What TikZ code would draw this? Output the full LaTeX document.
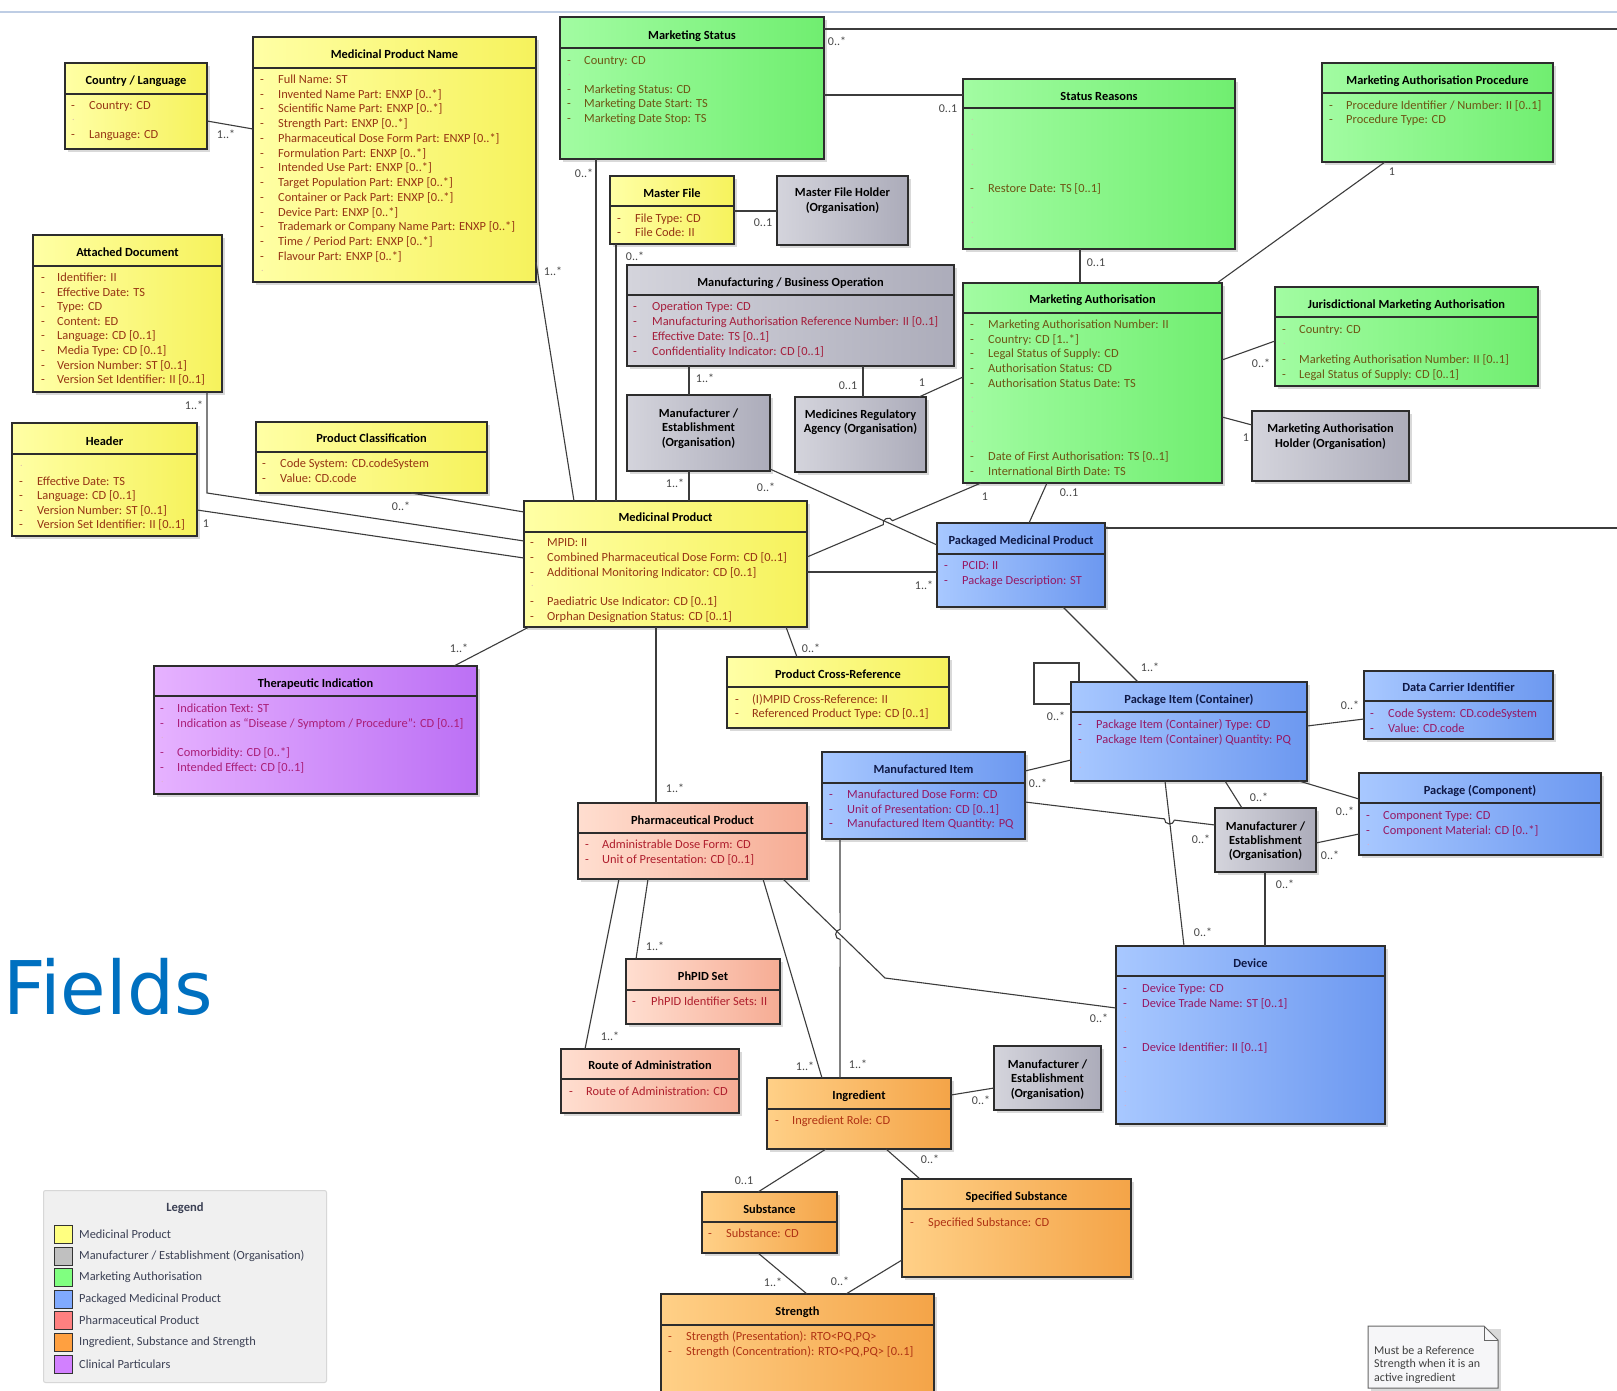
\documentclass[tikz,border=0pt]{standalone}
\usepackage{fontspec}
\setmainfont{Carlito}
\newfontfamily\dejavu{DejaVu Sans}
\usetikzlibrary{calc}

\definecolor{yL}{RGB}{255,255,165}\definecolor{yR}{RGB}{246,242,92}
\definecolor{gL}{RGB}{162,252,162}\definecolor{gR}{RGB}{112,238,112}
\definecolor{kL}{RGB}{212,212,220}\definecolor{kR}{RGB}{172,172,186}
\definecolor{bL}{RGB}{168,200,255}\definecolor{bR}{RGB}{108,152,240}
\definecolor{pL}{RGB}{255,222,208}\definecolor{pR}{RGB}{246,172,148}
\definecolor{oL}{RGB}{255,208,135}\definecolor{oR}{RGB}{244,164,72}
\definecolor{vL}{RGB}{230,178,255}\definecolor{vR}{RGB}{188,112,245}
\definecolor{tY}{RGB}{150,52,20}
\definecolor{tG}{RGB}{110,85,20}
\definecolor{tK}{RGB}{165,30,60}
\definecolor{tB}{RGB}{150,25,100}
\definecolor{tP}{RGB}{175,30,45}
\definecolor{tO}{RGB}{175,50,20}
\definecolor{tV}{RGB}{170,30,120}
\definecolor{navy}{RGB}{15,25,70}
\definecolor{lineC}{RGB}{60,60,60}
\definecolor{boxC}{RGB}{45,45,45}
\definecolor{multC}{RGB}{70,70,70}
\definecolor{fieldsC}{RGB}{0,112,192}
\definecolor{legBg}{RGB}{240,240,240}
\definecolor{legBd}{RGB}{215,215,215}
\definecolor{legT}{RGB}{60,65,85}
\definecolor{noteBg}{RGB}{246,246,248}
\definecolor{topC}{RGB}{190,205,228}
\definecolor{sY}{RGB}{255,255,128}\definecolor{sK}{RGB}{192,192,192}
\definecolor{sG}{RGB}{128,255,128}\definecolor{sB}{RGB}{128,170,255}
\definecolor{sP}{RGB}{255,128,128}\definecolor{sO}{RGB}{255,160,64}
\definecolor{sV}{RGB}{210,128,255}
\colorlet{ac}{black}
\colorlet{tc}{black}

\tikzset{
  shadowc/.style={fill=black, opacity=0.15},
  box/.style={rectangle, draw=boxC, line width=1.2pt, inner sep=0pt, outer sep=0pt},
  sepline/.style={draw=boxC, line width=1.3pt},
  ttl/.style={font=\fontsize{12.4}{14}\selectfont\bfseries, text=tc, inner sep=0pt, text height=11.5pt, text depth=2.5pt},
  attr/.style={font=\fontsize{12.4}{14}\selectfont, text=ac, inner sep=0pt, anchor=west, text height=11.5pt, text depth=2.5pt},
  dotm/.style={font=\fontsize{10}{12}\selectfont, text=ac!35, inner sep=0pt, anchor=west},
  conn/.style={draw=lineC, line width=1.1pt},
  mult/.style={font=\fontsize{12}{14}\selectfont, text=multC, inner sep=0pt},
  legtxt/.style={font=\fontsize{12.4}{14}\selectfont, text=legT, inner sep=0pt},
  notetxt/.style={font=\fontsize{12}{14}\selectfont, text=black!75, inner sep=0pt, anchor=west},
  fY/.style={left color=yL, right color=yR},
  fG/.style={left color=gL, right color=gR},
  fK/.style={left color=kL, right color=kR},
  fB/.style={left color=bL, right color=bR},
  fP/.style={left color=pL, right color=pR},
  fO/.style={left color=oL, right color=oR},
  fV/.style={left color=vL, right color=vR},
}

\newcount\nn
\newcommand\nid{\global\advance\nn by 1\relax}

% name x1 y1 x2 y2 sepY titleY fill title
\newcommand\umlbox[9]{%
  \expandafter\xdef\csname bx@#1\endcsname{#2}%
  \expandafter\xdef\csname by@#1\endcsname{#3}%
  \fill[shadowc] (#2+3,#3+3) rectangle (#4+3,#5+3);
  \node[box,#8,minimum width={(#4)-(#2)},minimum height={(#5)-(#3)},anchor=north west] (#1) at (#2,#3) {};
  \draw[sepline] (#2,#6) -- (#4,#6);
  \node[ttl] (#1t) at ({(#2+#4)/2},#7) {#9};
}
\newcommand\orgbox[5]{%
  \expandafter\xdef\csname bx@#1\endcsname{#2}%
  \expandafter\xdef\csname by@#1\endcsname{#3}%
  \fill[shadowc] (#2+3,#3+3) rectangle (#4+3,#5+3);
  \node[box,fK,minimum width={(#4)-(#2)},minimum height={(#5)-(#3)},anchor=north west] (#1) at (#2,#3) {};
}
\newcommand\ot[3]{\nid\node[ttl] (o\the\nn) at (#1,#2) {#3};}
\newcommand\attrlist[5]{%
  \foreach \t [count=\i from 0] in {#5}{%
    \nid
    \edef\tmpT{\detokenize\expandafter{\t}}%
    \ifx\tmpT\empty
      \node[dotm] (a\the\nn) at (#1+1,{#3+\i*#4}) {.};%
    \else
      \node[attr] (a\the\nn) at (#1,{#3+\i*#4}) {-};%
      \node[attr] (b\the\nn) at (#2,{#3+\i*#4}) {\t};%
    \fi}}
\newcommand\cp[4]{\coordinate (#1) at ($(#2.north west)+({#3-\csname bx@#2\endcsname},{#4-\csname by@#2\endcsname})$);}
\newcommand\ml[3]{\nid\node[mult] (m\the\nn) at (#1,#2) {#3};}
\newcommand\legitem[3]{\nid\node[draw=black!80, line width=1pt, fill=#2, minimum width=18, minimum height=18, inner sep=0pt, anchor=west] (s\the\nn) at (54,#1) {};
  \node[legtxt, anchor=west] (l\the\nn) at (79,#1) {#3};}

\begin{document}
\begin{tikzpicture}[x=1pt,y=-1pt]
\useasboundingbox (0,0) rectangle (1617,1391);
\fill[white] (0,0) rectangle (1617,1391);
\draw[topC, line width=2.5pt] (0,12) -- (1617,12);

% ---------- yellow ----------
\colorlet{ac}{tY}\colorlet{tc}{black}
\umlbox{cl}{65}{63}{207}{149}{94}{80}{fY}{Country / Language}
\attrlist{71}{89}{105}{14.5}{{Country: CD},{},{Language: CD}}
\umlbox{mpn}{253}{37}{536}{282}{68}{54}{fY}{Medicinal Product Name}
\attrlist{260}{278}{79}{14.75}{{Full Name: ST},{Invented Name Part: ENXP [0..*]},{Scientific Name Part: ENXP [0..*]},{Strength Part: ENXP [0..*]},{Pharmaceutical Dose Form Part: ENXP [0..*]},{Formulation Part: ENXP [0..*]},{Intended Use Part: ENXP [0..*]},{Target Population Part: ENXP [0..*]},{Container or Pack Part: ENXP [0..*]},{Device Part: ENXP [0..*]},{Trademark or Company Name Part: ENXP [0..*]},{Time / Period Part: ENXP [0..*]},{Flavour Part: ENXP [0..*]},{}}
\umlbox{ad}{33}{235}{222}{392}{266}{252}{fY}{Attached Document}
\attrlist{41}{57}{277}{14.6}{{Identifier: II},{Effective Date: TS},{Type: CD},{Content: ED},{Language: CD [0..1]},{Media Type: CD [0..1]},{Version Number: ST [0..1]},{Version Set Identifier: II [0..1]}}
\umlbox{hd}{12}{423}{197}{536}{454}{441}{fY}{Header}
\attrlist{19}{37}{466}{14.5}{{},{Effective Date: TS},{Language: CD [0..1]},{Version Number: ST [0..1]},{Version Set Identifier: II [0..1]}}
\umlbox{pc}{256}{422}{487}{493}{452}{438}{fY}{Product Classification}
\attrlist{262}{280}{463}{15}{{Code System: CD.codeSystem},{Value: CD.code}}
\umlbox{mf}{610}{176}{734}{244}{206}{193}{fY}{Master File}
\attrlist{617}{635}{218}{14}{{File Type: CD},{File Code: II}}
\umlbox{mp}{524}{501}{807}{627}{532}{517}{fY}{Medicinal Product}
\attrlist{530}{547}{542}{14.8}{{MPID: II},{Combined Pharmaceutical Dose Form: CD [0..1]},{Additional Monitoring Indicator: CD [0..1]},{},{Paediatric Use Indicator: CD [0..1]},{Orphan Designation Status: CD [0..1]}}
\umlbox{pcr}{727}{657}{949}{728}{687}{674}{fY}{Product Cross-Reference}
\attrlist{735}{752}{699}{14}{{(I)MPID Cross-Reference: II},{Referenced Product Type: CD [0..1]}}

% ---------- green ----------
\colorlet{ac}{tG}
\umlbox{ms}{560}{17}{824}{159}{48}{35}{fG}{Marketing Status}
\attrlist{567}{584}{60}{14.5}{{Country: CD},{},{Marketing Status: CD},{Marketing Date Start: TS},{Marketing Date Stop: TS}}
\umlbox{sr}{963}{79}{1235}{249}{108}{96}{fG}{Status Reasons}
\attrlist{970}{988}{120}{15}{{},{},{},{}}
\attrlist{970}{988}{188}{15}{{Restore Date: TS [0..1]}}
\attrlist{970}{988}{208}{15}{{},{},{}}
\umlbox{map}{1322}{63}{1553}{162}{93}{80}{fG}{Marketing Authorisation Procedure}
\attrlist{1329}{1346}{105}{14.5}{{Procedure Identifier / Number: II [0..1]},{Procedure Type: CD}}
\umlbox{ma}{963}{283}{1222}{483}{313}{299}{fG}{Marketing Authorisation}
\attrlist{970}{988}{324}{14.7}{{Marketing Authorisation Number: II},{Country: CD [1..*]},{Legal Status of Supply: CD},{Authorisation Status: CD},{Authorisation Status Date: TS},{},{},{},{},{Date of First Authorisation: TS [0..1]},{International Birth Date: TS}}
\umlbox{jma}{1275}{287}{1538}{386}{317}{304}{fG}{Jurisdictional Marketing Authorisation}
\attrlist{1282}{1299}{329}{15}{{Country: CD},{},{Marketing Authorisation Number: II [0..1]},{Legal Status of Supply: CD [0..1]}}

% ---------- grey ----------
\colorlet{ac}{tK}
\umlbox{mbo}{627}{265}{954}{366}{295}{282}{fK}{Manufacturing / Business Operation}
\attrlist{633}{652}{306}{15}{{Operation Type: CD},{Manufacturing Authorisation Reference Number: II [0..1]},{Effective Date: TS [0..1]},{Confidentiality Indicator: CD [0..1]}}
\orgbox{mfh}{777}{176}{908}{245}
\ot{842.5}{192}{Master File Holder}\ot{842.5}{207}{(Organisation)}
\orgbox{mah}{1252}{411}{1409}{481}
\ot{1330.5}{428}{Marketing Authorisation}\ot{1330.5}{443}{Holder (Organisation)}
\orgbox{mfrA}{627}{395}{770}{471}
\ot{698.5}{413}{Manufacturer /}\ot{698.5}{427}{Establishment}\ot{698.5}{442}{(Organisation)}
\orgbox{mra}{795}{397}{926}{472}
\ot{860.5}{414}{Medicines Regulatory}\ot{860.5}{428}{Agency (Organisation)}
\orgbox{mfrB}{1215}{808}{1316}{872}
\ot{1265.5}{826}{Manufacturer /}\ot{1265.5}{840}{Establishment}\ot{1265.5}{854}{(Organisation)}
\orgbox{mfrC}{994}{1046}{1101}{1110}
\ot{1047.5}{1064}{Manufacturer /}\ot{1047.5}{1078}{Establishment}\ot{1047.5}{1093}{(Organisation)}

% ---------- blue ----------
\colorlet{ac}{tB}\colorlet{tc}{navy}
\umlbox{pmp}{937}{523}{1105}{607}{554}{540}{fB}{Packaged Medicinal Product}
\attrlist{944}{962}{565}{14.5}{{PCID: II},{Package Description: ST}}
\umlbox{pi}{1071}{682}{1307}{781}{712}{699}{fB}{Package Item (Container)}
\attrlist{1078}{1096}{724}{14.7}{{Package Item (Container) Type: CD},{Package Item (Container) Quantity: PQ},{},{}}
\umlbox{mi}{822}{752}{1025}{839}{783}{769}{fB}{Manufactured Item}
\attrlist{829}{847}{794}{14.5}{{Manufactured Dose Form: CD},{Unit of Presentation: CD [0..1]},{Manufactured Item Quantity: PQ}}
\umlbox{dci}{1364}{671}{1553}{739}{701}{687}{fB}{Data Carrier Identifier}
\attrlist{1370}{1388}{713}{15}{{Code System: CD.codeSystem},{Value: CD.code}}
\umlbox{pkc}{1359}{773}{1601}{855}{803}{790}{fB}{Package (Component)}
\attrlist{1366}{1383}{815}{15}{{Component Type: CD},{Component Material: CD [0..*]},{}}
\umlbox{dev}{1116}{946}{1385}{1124}{976}{963}{fB}{Device}
\attrlist{1123}{1142}{988}{14.8}{{Device Type: CD},{Device Trade Name: ST [0..1]},{},{},{Device Identifier: II [0..1]},{},{},{},{}}

% ---------- pink ----------
\colorlet{ac}{tP}\colorlet{tc}{black}
\umlbox{php}{578}{803}{807}{879}{833}{820}{fP}{Pharmaceutical Product}
\attrlist{585}{602}{844}{15}{{Administrable Dose Form: CD},{Unit of Presentation: CD [0..1]}}
\umlbox{phs}{626}{959}{780}{1024}{990}{976}{fP}{PhPID Set}
\attrlist{632}{651}{1001}{15}{{PhPID Identifier Sets: II}}
\umlbox{roa}{561}{1049}{739}{1113}{1079}{1065}{fP}{Route of Administration}
\attrlist{569}{586}{1091}{15}{{Route of Administration: CD}}

% ---------- orange ----------
\colorlet{ac}{tO}
\umlbox{ing}{767}{1078}{951}{1149}{1109}{1095}{fO}{Ingredient}
\attrlist{775}{792}{1120}{15}{{Ingredient Role: CD}}
\umlbox{sub}{702}{1192}{837}{1253}{1222}{1209}{fO}{Substance}
\attrlist{708}{726}{1233}{15}{{Substance: CD}}
\umlbox{ss}{902}{1179}{1131}{1277}{1209}{1196}{fO}{Specified Substance}
\attrlist{910}{928}{1222}{15}{{Specified Substance: CD}}
\umlbox{str}{661}{1294}{934}{1402}{1325}{1311}{fO}{Strength}
\attrlist{668}{686}{1336}{15}{{Strength (Presentation): RTO<PQ,PQ>},{Strength (Concentration): RTO<PQ,PQ> [0..1]}}

% ---------- purple ----------
\colorlet{ac}{tV}
\umlbox{ti}{154}{666}{477}{794}{696}{683}{fV}{Therapeutic Indication}
\attrlist{160}{177}{708}{14.75}{{Indication Text: ST},{Indication as ``Disease / Symptom / Procedure'': CD [0..1]},{},{Comorbidity: CD [0..*]},{Intended Effect: CD [0..1]},{}}

% ---------- connectors ----------
\cp{c1a}{cl}{207}{121}\cp{c1b}{mpn}{253}{129}
\draw[conn] (c1a) -- (c1b); \ml{226}{134}{1..*}
\cp{c2a}{mpn}{536}{262}\cp{c2b}{mp}{574}{501}
\draw[conn] (c2a) -- (c2b); \ml{553}{271}{1..*}
\cp{c3a}{ms}{596}{159}\cp{c3b}{mp}{596}{501}
\draw[conn] (c3a) -- (c3b); \ml{584}{173}{0..*}
\cp{c4a}{mf}{616}{244}\cp{c4b}{mp}{616}{501}
\draw[conn] (c4a) -- (c4b); \ml{635}{256}{0..*}
\cp{c5a}{mf}{734}{211}\cp{c5b}{mfh}{777}{211}
\draw[conn] (c5a) -- (c5b); \ml{763}{223}{0..1}
\cp{c6a}{ms}{824}{95}\cp{c6b}{sr}{963}{95}
\draw[conn] (c6a) -- (c6b); \ml{948}{109}{0..1}
\cp{c7a}{ms}{824}{29}\coordinate (edgeA) at (1617,29);
\draw[conn] (c7a) -- (edgeA); \ml{837}{41}{0..*}
\cp{c8a}{sr}{1080}{249}\cp{c8b}{ma}{1080}{283}
\draw[conn] (c8a) -- (c8b); \ml{1096}{263}{0..1}
\cp{c9a}{map}{1385}{162}\cp{c9b}{ma}{1217}{283}
\draw[conn] (c9a) -- (c9b); \ml{1392}{172}{1}
\cp{c10a}{ma}{1222}{360}\cp{c10b}{jma}{1275}{341}
\draw[conn] (c10a) -- (c10b); \ml{1261}{363}{0..*}
\cp{c11a}{ma}{1222}{417}\cp{c11b}{mah}{1252}{425}
\draw[conn] (c11a) -- (c11b); \ml{1246}{438}{1}
\cp{c12a}{mbo}{689}{366}\cp{c12b}{mfrA}{689}{395}
\draw[conn] (c12a) -- (c12b); \ml{705}{378}{1..*}
\cp{c13a}{mbo}{863}{366}\cp{c13b}{mra}{863}{397}
\draw[conn] (c13a) -- (c13b); \ml{848}{386}{0..1}
\cp{c14a}{ma}{963}{377}\cp{c14b}{mra}{919}{397}
\draw[conn] (c14a) -- (c14b); \ml{922}{383}{1}
\cp{c15a}{mfrA}{689}{471}\cp{c15b}{mp}{689}{501}
\draw[conn] (c15a) -- (c15b); \ml{675}{483}{1..*}
\cp{c16a}{mfrA}{770}{469}\cp{c16b}{pmp}{937}{545}
\cp{c17a}{ma}{981}{483}\cp{c17b}{mp}{807}{557}
\coordinate (h1) at (intersection of c16a--c16b and c17a--c17b);
\draw[conn] (c16a) -- (c16b); \ml{766}{487}{0..*}
\draw[conn] (c17a) -- ($(h1)!5pt!(c17a)$) to[bend right=90,looseness=1.5] ($(h1)!5pt!(c17b)$) -- (c17b); \ml{985}{497}{1}
\cp{c18a}{ma}{1047}{483}\cp{c18b}{pmp}{1029}{523}
\draw[conn] (c18a) -- (c18b); \ml{1069}{493}{0..1}
\cp{c19a}{mp}{807}{572}\cp{c19b}{pmp}{937}{572}
\draw[conn] (c19a) -- (c19b); \ml{924}{585}{1..*}
\cp{c20a}{pmp}{1105}{528}\coordinate (edgeB) at (1617,528);
\draw[conn] (c20a) -- (edgeB);
\cp{c21a}{pc}{411}{493}\cp{c21b}{mp}{524}{512}
\draw[conn] (c21a) -- (c21b); \ml{401}{506}{0..*}
\cp{c22a}{ad}{207}{392}\cp{c22b}{mp}{524}{541}
\draw[conn] (c22a) -- ++(0,101) -- (c22b); \ml{194}{405}{1..*}
\cp{c23a}{hd}{197}{510}\cp{c23b}{mp}{524}{558}
\draw[conn] (c23a) -- (c23b); \ml{206}{524}{1}
\cp{c24a}{mp}{529}{627}\cp{c24b}{ti}{454}{666}
\draw[conn] (c24a) -- (c24b); \ml{459}{648}{1..*}
\cp{c25a}{mp}{786}{627}\cp{c25b}{pcr}{797}{657}
\draw[conn] (c25a) -- (c25b); \ml{811}{648}{0..*}
\cp{c26a}{mp}{656}{627}\cp{c26b}{php}{656}{803}
\draw[conn] (c26a) -- (c26b); \ml{675}{788}{1..*}
\cp{c27a}{pmp}{1063}{607}\cp{c27b}{pi}{1138}{682}
\draw[conn] (c27a) -- (c27b); \ml{1150}{667}{1..*}
\cp{c28a}{pi}{1307}{726}\cp{c28b}{dci}{1364}{719}
\draw[conn] (c28a) -- (c28b); \ml{1350}{705}{0..*}
\cp{c29a}{pi}{1071}{760}\cp{c29b}{mi}{1025}{771}
\draw[conn] (c29a) -- (c29b); \ml{1038}{783}{0..*}
\cp{c30a}{pi}{1299}{781}\cp{c30b}{pkc}{1359}{799}
\draw[conn] (c30a) -- (c30b); \ml{1345}{811}{0..*}
\cp{c31a}{pi}{1225}{781}\cp{c31b}{mfrB}{1242}{808}
\draw[conn] (c31a) -- (c31b); \ml{1259}{797}{0..*}
\cp{c32a}{pi}{1165}{781}\cp{c32b}{dev}{1184}{946}
\cp{c33a}{mi}{1025}{802}\cp{c33b}{mfrB}{1215}{825}
\coordinate (h2) at (intersection of c32a--c32b and c33a--c33b);
\draw[conn] (c32a) -- (c32b); \ml{1203}{932}{0..*}
\draw[conn] (c33a) -- ($(h2)!5pt!(c33a)$) to[bend right=90,looseness=1.5] ($(h2)!5pt!(c33b)$) -- (c33b); \ml{1201}{839}{0..*}
\cp{c34a}{mfrB}{1316}{843}\cp{c34b}{pkc}{1359}{834}
\draw[conn] (c34a) -- (c34b); \ml{1330}{855}{0..*}
\cp{c35a}{mfrB}{1265}{872}\cp{c35b}{dev}{1265}{946}
\draw[conn] (c35a) -- (c35b); \ml{1285}{884}{0..*}
\cp{c36a}{mi}{840}{839}\cp{c36b}{ing}{840}{1078}
\cp{c37a}{php}{783}{879}\coordinate (bend37) at (885,978);\cp{c37b}{dev}{1116}{1008}
\coordinate (h3) at (intersection of c36a--c36b and c37a--bend37);
\draw[conn] (c37a) -- (bend37) -- (c37b); \ml{1099}{1018}{0..*}
\draw[conn] (c36a) -- ($(h3)!5pt!(c36a)$) to[bend right=90,looseness=1.5] ($(h3)!5pt!(c36b)$) -- (c36b); \ml{858}{1064}{1..*}
\cp{c38a}{php}{648}{879}\cp{c38b}{phs}{636}{959}
\draw[conn] (c38a) -- (c38b); \ml{655}{946}{1..*}
\cp{c39a}{php}{619}{879}\cp{c39b}{roa}{585}{1049}
\draw[conn] (c39a) -- (c39b); \ml{610}{1036}{1..*}
\cp{c40a}{php}{763}{879}\cp{c40b}{ing}{822}{1078}
\draw[conn] (c40a) -- (c40b); \ml{805}{1066}{1..*}
\cp{c41a}{ing}{951}{1095}\cp{c41b}{mfrC}{994}{1088}
\draw[conn] (c41a) -- (c41b); \ml{981}{1100}{0..*}
\cp{c42a}{ing}{826}{1149}\cp{c42b}{sub}{758}{1192}
\draw[conn] (c42a) -- (c42b); \ml{744}{1181}{0..1}
\cp{c43a}{ing}{886}{1149}\cp{c43b}{ss}{920}{1179}
\draw[conn] (c43a) -- (c43b); \ml{930}{1159}{0..*}
\cp{c44a}{sub}{758}{1253}\cp{c44b}{str}{807}{1294}
\draw[conn] (c44a) -- (c44b); \ml{773}{1282}{1..*}
\cp{c45a}{ss}{902}{1260}\cp{c45b}{str}{846}{1294}
\draw[conn] (c45a) -- (c45b); \ml{840}{1281}{0..*}
\cp{slA}{pi}{1079}{682}\cp{slB}{pi}{1071}{704}
\draw[conn] (slA) -- ++(0,-19) -- ++(-45,0) -- ++(0,41) -- (slB); \ml{1056}{716}{0..*}

% ---------- Fields ----------
\node[anchor=base west, inner sep=0pt, text=fieldsC, font=\dejavu\fontsize{74}{80}\selectfont] (fields) at (3,1014) {Fields};

% ---------- legend ----------
\node[draw=legBd, fill=legBg, line width=1pt, rounded corners=2pt, minimum width=283, minimum height=192, inner sep=0pt, anchor=north west] (legend) at (43,1190) {};
\node[legtxt, font=\fontsize{12.6}{14}\selectfont\bfseries] (legtitle) at (185,1208) {Legend};
\legitem{1234}{sY}{Medicinal Product}
\legitem{1256}{sK}{Manufacturer / Establishment (Organisation)}
\legitem{1277}{sG}{Marketing Authorisation}
\legitem{1299}{sB}{Packaged Medicinal Product}
\legitem{1320}{sP}{Pharmaceutical Product}
\legitem{1342}{sO}{Ingredient, Substance and Strength}
\legitem{1364}{sV}{Clinical Particulars}

% ---------- note ----------
\fill[shadowc] (1371,1329) rectangle (1501,1391);
\draw[draw=black!60, fill=noteBg, line width=1pt] (1368,1326) -- (1484,1326) -- (1498,1340) -- (1498,1388) -- (1368,1388) -- cycle;
\draw[black!60, line width=1pt] (1484,1326) -- (1484,1340) -- (1498,1340);
\node[notetxt] (note1) at (1374,1350) {Must be a Reference};
\node[notetxt] (note2) at (1374,1364) {Strength when it is an};
\node[notetxt] (note3) at (1374,1378) {active ingredient};
\end{tikzpicture}
\end{document}
